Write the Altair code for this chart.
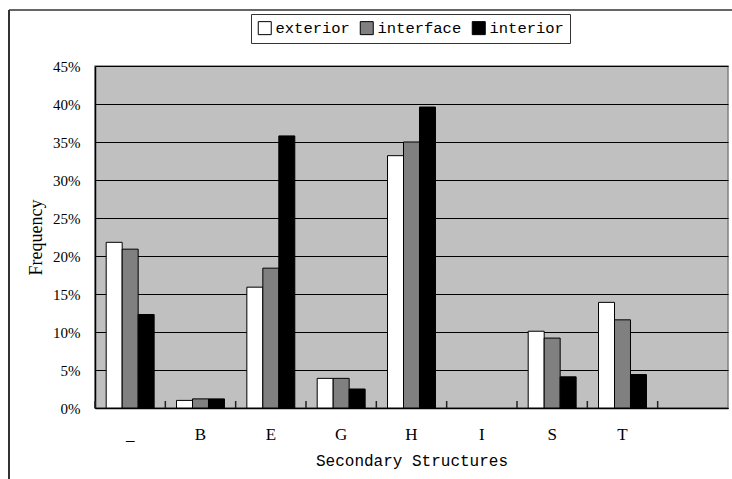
import altair as alt
import pandas as pd

# Secondary-structure categories (the last slot is intentionally empty)
categories = ["_", "B", "E", "G", "H", "I", "S", "T", " "]
series_names = ["exterior", "interface", "interior"]

# Frequencies in percent, one list per residue location
exterior = [21.8, 1.0, 15.9, 3.9, 33.2, 0.0, 10.1, 13.9]
interface = [20.9, 1.2, 18.4, 3.9, 35.0, 0.0, 9.2, 11.6]
interior = [12.3, 1.2, 35.8, 2.5, 39.6, 0.0, 4.1, 4.4]

y_ticks = [0, 0.05, 0.10, 0.15, 0.20, 0.25, 0.30, 0.35, 0.40, 0.45]

rows = []
for name, vals in zip(series_names, [exterior, interface, interior]):
    for cat, v in zip(categories, vals):
        rows.append({"structure": cat, "location": name, "freq": v / 100.0})
df = pd.DataFrame(rows)
ticks_df = pd.DataFrame({"structure": categories})
frame_df = pd.DataFrame({"k": [0]})

W, H = 633, 342

x_scale = alt.Scale(domain=categories, paddingInner=0, paddingOuter=0)
x_axis = alt.Axis(
    title="Secondary Structures",
    labelAngle=0,
    ticks=False,
    domainColor="black",
    domainWidth=1.5,
    labelFont="Liberation Serif",
    labelFontSize=17,
    labelColor="black",
    labelPadding=18,
    titleFont="Liberation Mono",
    titleFontSize=16,
    titleFontWeight="normal",
    titleColor="black",
    titlePadding=10,
)

bars = (
    alt.Chart(df)
    .transform_filter("datum.freq > 0")
    .mark_bar(stroke="black", strokeWidth=1)
    .encode(
        x=alt.X("structure:N", scale=x_scale, sort=categories, axis=x_axis),
        xOffset=alt.XOffset(
            "location:N",
            sort=series_names,
            scale=alt.Scale(domain=series_names, paddingInner=0, paddingOuter=0.7),
        ),
        y=alt.Y(
            "freq:Q",
            scale=alt.Scale(domain=[0, 0.45], nice=False),
            axis=alt.Axis(
                title="Frequency",
                format=".0%",
                values=y_ticks,
                grid=True,
                gridColor="black",
                gridWidth=1,
                ticks=False,
                domainColor="black",
                domainWidth=1.5,
                labelFont="Liberation Serif",
                labelFontSize=15,
                labelColor="black",
                labelPadding=15,
                titleFont="Liberation Serif",
                titleFontSize=18,
                titleFontWeight="normal",
                titleColor="black",
                titlePadding=7,
            ),
        ),
        fill=alt.Fill(
            "location:N",
            sort=series_names,
            scale=alt.Scale(domain=series_names, range=["white", "#808080", "black"]),
            legend=alt.Legend(
                title=None,
                orient="none",
                legendX=156,
                legendY=-52,
                direction="horizontal",
                strokeColor="#333333",
                fillColor="white",
                padding=6,
                symbolType="square",
                symbolSize=169,
                symbolStrokeColor="black",
                symbolStrokeWidth=1,
                labelFont="Liberation Mono",
                labelFontSize=15.5,
                labelColor="black",
                labelOffset=3,
                columnPadding=8,
            ),
        ),
    )
)

# small inward ticks at the category boundaries
boundary_ticks = alt.Chart(ticks_df).mark_rule(color="#222222", strokeWidth=1.5).encode(
    x=alt.X("structure:N", bandPosition=0, scale=x_scale, sort=categories, axis=x_axis),
    y=alt.value(H - 7),
    y2=alt.value(H),
)

# outer chart frame (top and left edges)
frame_top = alt.Chart(frame_df).mark_rule(color="#333333", strokeWidth=1.5).encode(
    x=alt.value(-86), x2=alt.value(W + 20), y=alt.value(-56)
)
frame_left = alt.Chart(frame_df).mark_rule(color="#333333", strokeWidth=2).encode(
    x=alt.value(-86), y=alt.value(-56), y2=alt.value(H + 90)
)

chart = (
    alt.layer(bars, boundary_ticks, frame_top, frame_left)
    .properties(
        width=W,
        height=H,
        autosize=alt.AutoSizeParams(type="none"),
        padding={"left": 95, "top": 66, "right": 4, "bottom": 71},
        background="white",
    )
    .configure_view(fill="#C0C0C0", stroke="#808080", strokeWidth=1.5)
)

chart.save("out.html", embed_options={"renderer": "svg", "actions": False})
